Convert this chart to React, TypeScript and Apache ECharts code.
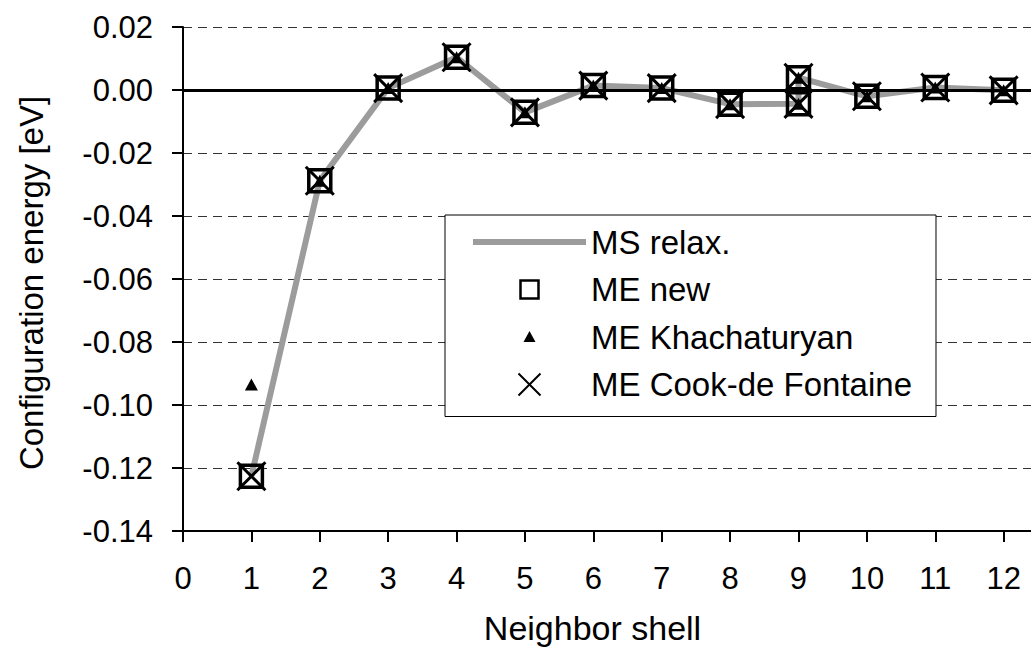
import React, { useEffect, useRef } from "react";
import * as echarts from "echarts";

// ---- data ----
const shells = [1, 2, 3, 4, 5, 6, 7, 8, 9, 9, 10, 11, 12];
const msRelax = [-0.1226, -0.0288, 0.0006, 0.0104, -0.0071, 0.0014, 0.0006, -0.0045, -0.0044, 0.0039, -0.0020, 0.0008, -0.0001];
const meNew = [-0.1226, -0.0288, 0.0006, 0.0104, -0.0071, 0.0014, 0.0006, -0.0045, -0.0044, 0.0039, -0.0020, 0.0008, -0.0001];
const meKhachaturyan = [-0.0935, -0.0288, 0.0006, 0.0104, -0.0071, 0.0014, 0.0006, -0.0045, -0.0044, 0.0039, -0.0020, 0.0008, -0.0001];
const meCookDeFontaine = [-0.1226, -0.0288, 0.0006, 0.0104, -0.0071, 0.0014, 0.0006, -0.0045, -0.0044, 0.0039, -0.0020, 0.0008, -0.0001];
const xTickValues = [0, 1, 2, 3, 4, 5, 6, 7, 8, 9, 10, 11, 12];
const seriesNames = ["MS relax.", "ME new", "ME Khachaturyan", "ME Cook-de Fontaine"];

const FONT = "'Liberation Sans', Arial, Helvetica, sans-serif";

const pairs = (ys: number[]) => shells.map((x, i) => [x, ys[i]]);

export default function App() {
  const ref = useRef<HTMLDivElement>(null);
  useEffect(() => {
    if (!ref.current) return;
    const chart = echarts.init(ref.current, null, { renderer: "svg" });
    const option: any = {
      animation: false,
      backgroundColor: "#fff",
      grid: { left: 183, top: 27, right: 0, bottom: 119, containLabel: false },
      xAxis: {
        type: "value",
        min: 0,
        max: 12.4,
        interval: 1,
        name: "Neighbor shell",
        nameLocation: "middle",
        nameGap: 80,
        nameTextStyle: { fontSize: 34, color: "#000", fontFamily: FONT, padding: [0, 29, 0, 0] },
        axisLine: { onZero: false, lineStyle: { color: "#000", width: 2 } },
        axisTick: { show: true, length: 11, customValues: xTickValues, lineStyle: { color: "#000", width: 2 } },
        axisLabel: {
          customValues: xTickValues,
          margin: 32,
          fontSize: 31,
          color: "#000",
          fontFamily: FONT,
          formatter: (v: number) => (Number.isInteger(v) ? String(v) : ""),
        },
        splitLine: { show: false },
      },
      yAxis: {
        type: "value",
        min: -0.14,
        max: 0.02,
        interval: 0.02,
        name: "Configuration energy [eV]",
        nameLocation: "middle",
        nameGap: 135,
        nameTextStyle: { fontSize: 33, color: "#000", fontFamily: FONT, padding: [0, 8, 0, 0] },
        axisLine: { show: true, onZero: false, lineStyle: { color: "#000", width: 2 } },
        axisTick: { show: true, length: 11, lineStyle: { color: "#000", width: 2 } },
        axisLabel: {
          margin: 30,
          fontSize: 31,
          color: "#000",
          fontFamily: FONT,
          formatter: (v: number) => (Math.abs(v) < 1e-9 ? "0.00" : v.toFixed(2)),
        },
        splitLine: { show: true, lineStyle: { color: "#333", width: 1, type: [9, 6] } },
      },
      legend: {
        orient: "vertical",
        left: 445,
        top: 215,
        padding: [10, 24, 15, 28],
        itemWidth: 113,
        itemHeight: 24,
        itemGap: 13.5,
        borderColor: "#000",
        borderWidth: 1,
        borderRadius: 0,
        backgroundColor: "#fff",
        selectedMode: false,
        textStyle: { fontSize: 33, color: "#000", fontFamily: FONT, lineHeight: 34 },
        data: [
          {
            name: seriesNames[0],
            icon: "path://M0,0M113,24M0,9L113,9L113,15L0,15Z",
            itemStyle: { color: "#9c9c9c", borderWidth: 0, opacity: 1 },
          },
          {
            name: seriesNames[1],
            icon: "path://M0,0M24,24M3,3L21,3L21,21L3,21Z",
            itemStyle: { color: "rgba(0,0,0,0)", borderColor: "#000", borderWidth: 2.5, opacity: 1 },
          },
          {
            name: seriesNames[2],
            icon: "path://M0,0M24,24M6,17L12,6L18,17Z",
            itemStyle: { color: "#000", borderWidth: 0, opacity: 1 },
          },
          {
            name: seriesNames[3],
            icon: "path://M0,0M24,24M1,1L23,23M23,1L1,23",
            itemStyle: { color: "rgba(0,0,0,0)", borderColor: "#000", borderWidth: 2, opacity: 1 },
          },
        ],
      },
      series: [
        {
          name: seriesNames[0],
          type: "line",
          data: pairs(msRelax),
          symbol: "none",
          lineStyle: { color: "#9c9c9c", width: 6, opacity: 1 },
          itemStyle: { color: "#9c9c9c" },
          z: 2,
          markLine: {
            silent: true,
            symbol: ["none", "none"],
            label: { show: false },
            lineStyle: { color: "#000", width: 3, type: "solid", opacity: 1 },
            data: [{ yAxis: 0 }],
            z: 4,
          },
        },
        {
          name: seriesNames[1],
          type: "scatter",
          data: pairs(meNew),
          symbol: "rect",
          symbolSize: 22,
          itemStyle: { color: "rgba(0,0,0,0)", borderColor: "#000", borderWidth: 3.5, opacity: 1 },
          z: 6,
        },
        {
          name: seriesNames[2],
          type: "scatter",
          data: pairs(meKhachaturyan),
          symbol: "triangle",
          symbolSize: [13, 12],
          itemStyle: { color: "#000", opacity: 1 },
          z: 7,
        },
        {
          name: seriesNames[3],
          type: "scatter",
          data: pairs(meCookDeFontaine),
          symbol: "path://M0,0L10,10M10,0L0,10",
          symbolSize: 28,
          itemStyle: { color: "rgba(0,0,0,0)", borderColor: "#000", borderWidth: 3, opacity: 1 },
          z: 8,
        },
      ],
    };
    chart.setOption(option);
    return () => chart.dispose();
  }, []);
  return (
    <div
      ref={ref}
      style={{ position: "fixed", left: 0, top: 0, width: 1031, height: 650, background: "#fff" }}
    />
  );
}
